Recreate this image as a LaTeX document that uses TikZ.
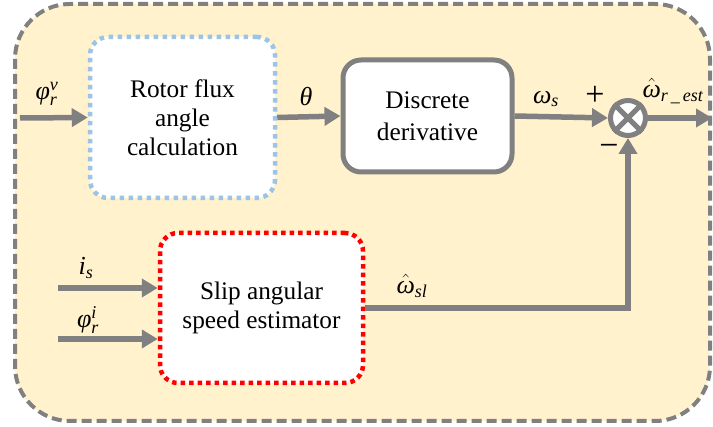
\documentclass[tikz,border=0pt]{standalone}
\usepackage{fontspec}
\setmainfont{Liberation Serif}
\usepackage{amsmath}
\usetikzlibrary{arrows.meta}
\DeclareMathSizes{26}{26}{18}{13}
\definecolor{panelfill}{HTML}{FFF2CC}
\definecolor{linegray}{HTML}{808080}
\definecolor{dotblue}{HTML}{9DC3E6}
\definecolor{dotred}{HTML}{FF0000}
% italic text-font letters inside math
\newcommand\itx[1]{\text{\itshape #1}}

\begin{document}
\begin{tikzpicture}[x=1pt,y=-1pt,
  sig/.style={draw=linegray,line width=5.5pt,-{Triangle[length=16pt,width=18pt]}},
  block/.style={rounded corners=18pt,fill=white,align=center,inner sep=0pt,
    font=\fontsize{25.3}{29}\selectfont},
  lbl/.style={font=\fontsize{26}{30}\selectfont,inner sep=0pt}]

\useasboundingbox (0,0) rectangle (713,427);

% estimator panel
\draw[linegray,line width=4pt,dash pattern=on 10pt off 5pt,fill=panelfill,
  rounded corners=55pt] (15,4) rectangle (710,421);

% blocks
\node[block,draw=dotblue,line width=4.5pt,dash pattern=on 4.5pt off 4.5pt,
  minimum width=185pt,minimum height=161pt] (rfa) at (182.5,117.5)
  {Rotor flux\\angle\\calculation};
\node[block,draw=linegray,line width=5pt,
  minimum width=169pt,minimum height=112pt,
  font=\fontsize{25.3}{32}\selectfont] (dd) at (427.5,116)
  {Discrete\\derivative};
\node[block,draw=dotred,line width=4.5pt,dash pattern=on 4.5pt off 4pt,
  minimum width=203pt,minimum height=150pt] (sae) at (261.5,308)
  {Slip angular\\speed estimator};

% summing junction
\node[circle,draw=linegray,line width=5pt,fill=white,minimum size=35pt,
  inner sep=0pt] (sum) at (628,118) {};
\draw[linegray,line width=5pt]
  (sum.north east) -- (sum.south west)
  (sum.north west) -- (sum.south east);

% signal paths
\coordinate (inv) at (20,118);
\coordinate (outend) at (712,118);
\coordinate (isin) at (58,288);
\coordinate (phiin) at (58,339);
\draw[sig] (inv) -- (rfa.west);
\draw[sig] (rfa.east) -- (dd.west);
\draw[sig] (dd.east) -- (sum.west);
\draw[sig] (sum.east) -- (outend);
\draw[sig] (isin) -- (isin -| sae.west);
\draw[sig] (phiin) -- (phiin -| sae.west);
\draw[sig] (sae.east) -| (sum.south);

% signal labels
\node[lbl] (lphiv) at (47,94) {$\itx{φ}_{\itx{r}}^{\itx{v}}$};
\node[lbl] (ltheta) at (306,97) {$\itx{θ}$};
\node[lbl] (lws) at (546,99) {$\itx{ω}_{\itx{s}}$};
\node[lbl,font=\fontsize{34}{34}\selectfont] (lplus) at (595,96) {+};
\node[lbl,font=\fontsize{34}{34}\selectfont] (lminus) at (609,150) {−};
\node[lbl] (lwr) at (673,91) {$\hat{\itx{ω}}_{\itx{r\,\_\,est}}$};
\node[lbl] (lis) at (86,268) {$\itx{i}_{\itx{s}}$};
\node[lbl] (lphii) at (88,320) {$\itx{φ}_{\itx{r}}^{\itx{i}}$};
\node[lbl] (lwsl) at (412,286) {$\hat{\itx{ω}}_{\itx{sl}}$};
\end{tikzpicture}
\end{document}
